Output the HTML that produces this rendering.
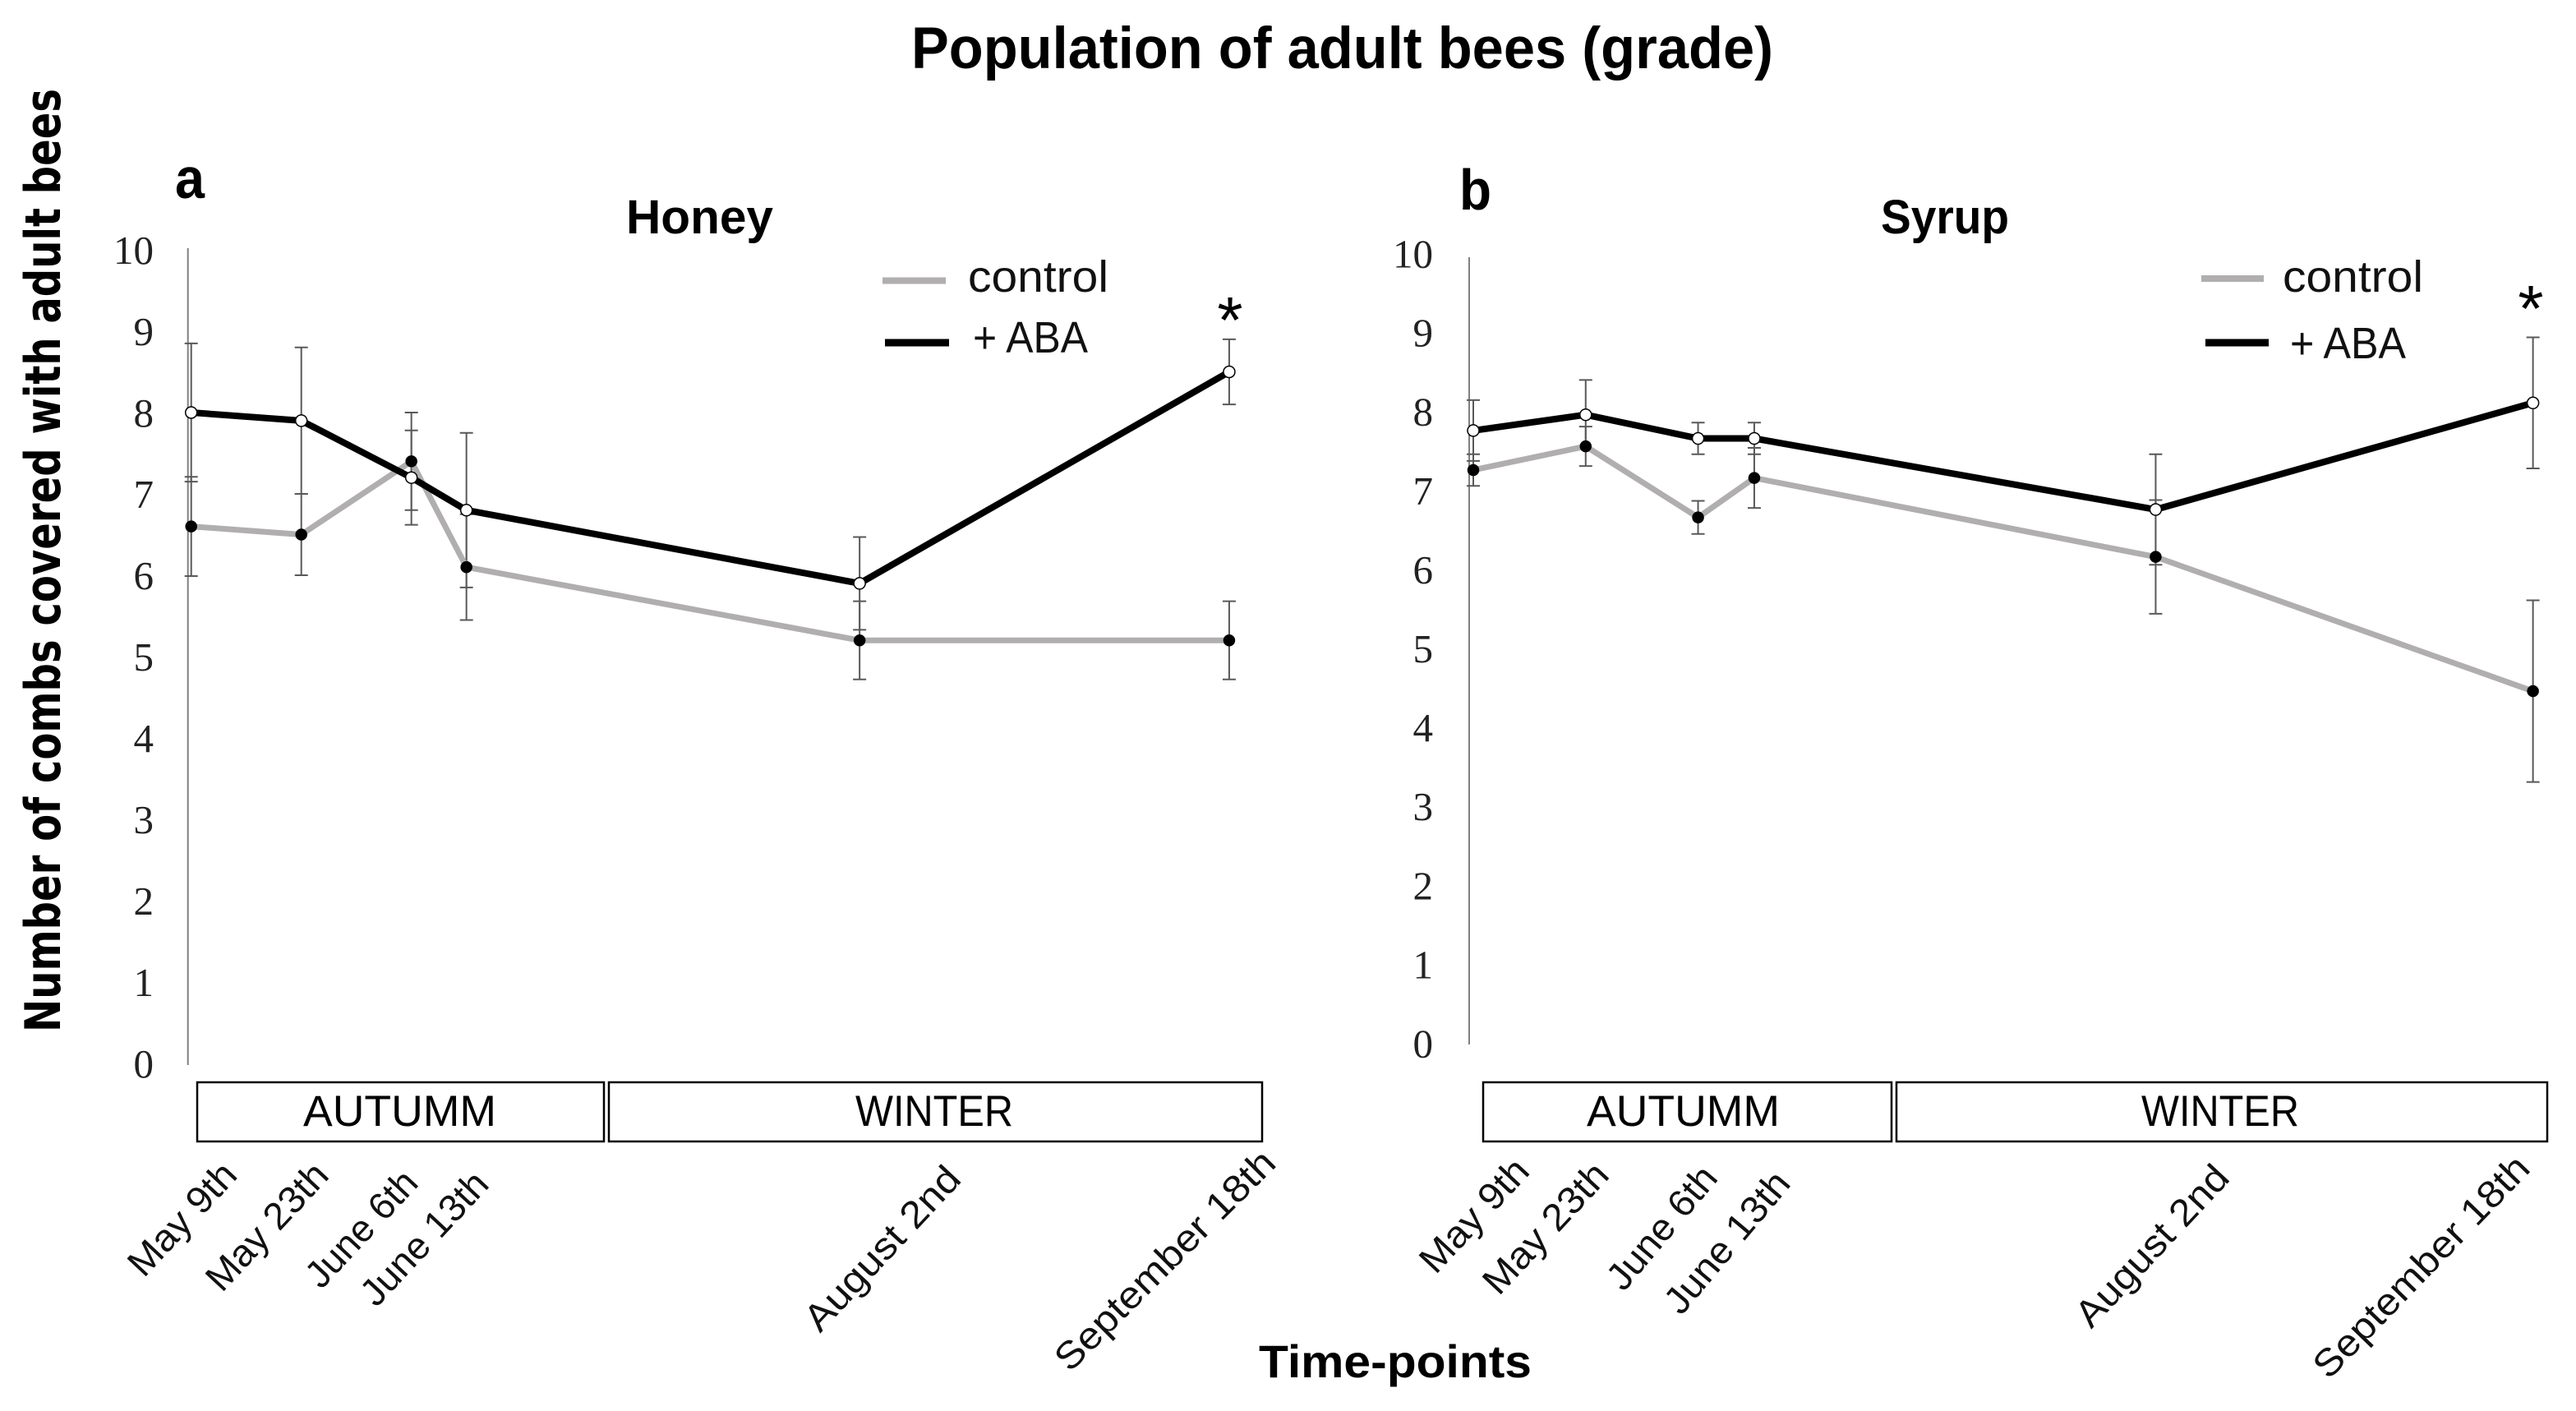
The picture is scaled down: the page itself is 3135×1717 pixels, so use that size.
<!DOCTYPE html>
<html lang="en">
<head>
<meta charset="utf-8">
<title>Population of adult bees (grade)</title>
<style>
  html, body { margin: 0; padding: 0; background: #fff; width: 3135px; height: 1717px; overflow: hidden; }
  svg { display: block; }
  text { fill: #000; font-family: "Liberation Sans", sans-serif; }
  .b { font-weight: 700; }
  .rot { font-size: 46px; fill: #111; }
  .season { font-size: 53px; }
  .leg { font-size: 54px; fill: #111; }
  .tick { font-family: "Liberation Serif", serif; font-size: 49px; fill: #222; }
  .box { fill: #fff; stroke: #000; stroke-width: 2.5; }
</style>
</head>
<body>
<svg id="figure" xmlns="http://www.w3.org/2000/svg" width="3135" height="1717" viewBox="0 0 3135 1717">
  <rect width="3135" height="1717" fill="#fff"/>
  <text class="b" x="1109" y="83" font-size="71" textLength="1049" lengthAdjust="spacingAndGlyphs">Population of adult bees (grade)</text>
  <text class="b" transform="translate(73,1256) rotate(-90)" style="font-family:'DejaVu Sans',sans-serif" font-size="60" textLength="1148" lengthAdjust="spacingAndGlyphs">Number of combs covered with adult bees</text>
  <text class="b" x="1532" y="1676" font-size="56" textLength="332" lengthAdjust="spacingAndGlyphs">Time-points</text>

  <text class="b" x="213" y="241" font-size="70" textLength="36" lengthAdjust="spacingAndGlyphs">a</text>
  <text class="b" x="1776" y="255" font-size="70" textLength="39" lengthAdjust="spacingAndGlyphs">b</text>
  <text class="b" x="762" y="284" font-size="58" textLength="179" lengthAdjust="spacingAndGlyphs">Honey</text>
  <text class="b" x="2289" y="284" font-size="58" textLength="156" lengthAdjust="spacingAndGlyphs">Syrup</text>

  <g id="honey-plot"></g>
  <g id="syrup-plot"></g>

  <g>
    <line x1="1074" x2="1151" y1="341.5" y2="341.5" stroke="#b0aeae" stroke-width="8"/>
    <text class="leg" x="1178" y="355" textLength="171" lengthAdjust="spacingAndGlyphs">control</text>
    <line x1="1077" x2="1155" y1="417" y2="417" stroke="#000" stroke-width="9"/>
    <text class="leg" x="1184" y="429" textLength="140" lengthAdjust="spacingAndGlyphs">+ ABA</text>
  </g>
  <g>
    <line x1="2679" x2="2755" y1="339" y2="339" stroke="#b0aeae" stroke-width="8"/>
    <text class="leg" x="2778" y="355" textLength="171" lengthAdjust="spacingAndGlyphs">control</text>
    <line x1="2684" x2="2761" y1="417" y2="417" stroke="#000" stroke-width="9"/>
    <text class="leg" x="2787" y="436" textLength="141" lengthAdjust="spacingAndGlyphs">+ ABA</text>
  </g>

  <text x="1497" y="417" font-size="80" text-anchor="middle">*</text>
  <text x="3080" y="403" font-size="80" text-anchor="middle">*</text>

  <g>
    <rect class="box" x="240" y="1317" width="495" height="72"/>
    <text class="season" x="369" y="1370" textLength="235" lengthAdjust="spacingAndGlyphs">AUTUMM</text>
    <rect class="box" x="741" y="1317" width="795" height="72"/>
    <text class="season" x="1041" y="1370" textLength="192" lengthAdjust="spacingAndGlyphs">WINTER</text>
  </g>
  <g>
    <rect class="box" x="1805" y="1317" width="497" height="72"/>
    <text class="season" x="1931" y="1370" textLength="235" lengthAdjust="spacingAndGlyphs">AUTUMM</text>
    <rect class="box" x="2308" y="1317" width="792" height="72"/>
    <text class="season" x="2606" y="1370" textLength="192" lengthAdjust="spacingAndGlyphs">WINTER</text>
  </g>

  <g>
    <text class="rot" transform="translate(175,1556) rotate(-47)" textLength="170" lengthAdjust="spacingAndGlyphs">May 9th</text>
    <text class="rot" transform="translate(270,1574) rotate(-47)" textLength="194" lengthAdjust="spacingAndGlyphs">May 23th</text>
    <text class="rot" transform="translate(391,1570) rotate(-47)" textLength="176" lengthAdjust="spacingAndGlyphs">June 6th</text>
    <text class="rot" transform="translate(458,1592) rotate(-47)" textLength="204" lengthAdjust="spacingAndGlyphs">June 13th</text>
    <text class="rot" transform="translate(998,1623) rotate(-47)" textLength="255" lengthAdjust="spacingAndGlyphs">August 2nd</text>
    <text class="rot" transform="translate(1302,1671) rotate(-45)" textLength="358" lengthAdjust="spacingAndGlyphs">September 18th</text>
  </g>
  <g>
    <text class="rot" transform="translate(1747,1552) rotate(-47)" textLength="171" lengthAdjust="spacingAndGlyphs">May 9th</text>
    <text class="rot" transform="translate(1824,1578) rotate(-47)" textLength="200" lengthAdjust="spacingAndGlyphs">May 23th</text>
    <text class="rot" transform="translate(1976,1573) rotate(-50)" textLength="181" lengthAdjust="spacingAndGlyphs">June 6th</text>
    <text class="rot" transform="translate(2046,1602) rotate(-50)" textLength="210" lengthAdjust="spacingAndGlyphs">June 13th</text>
    <text class="rot" transform="translate(2545,1618) rotate(-47)" textLength="250" lengthAdjust="spacingAndGlyphs">August 2nd</text>
    <text class="rot" transform="translate(2834,1680) rotate(-46)" textLength="356" lengthAdjust="spacingAndGlyphs">September 18th</text>
  </g>
</svg>
<script>
const dayOffsets = [0, 14, 28, 35, 85, 132];
const yTicks = [0, 1, 2, 3, 4, 5, 6, 7, 8, 9, 10];

const honeyControl = [6.6, 6.5, 7.4, 6.1, 5.2, 5.2];
const honeyControlErr = [0.61, 0.5, 0.6, 0.65, 0.48, 0.48];
const honeyAba = [8.0, 7.9, 7.2, 6.8, 5.9, 8.5];
const honeyAbaErr = [0.85, 0.9, 0.58, 0.95, 0.57, 0.4];

const syrupControl = [7.3, 7.6, 6.7, 7.2, 6.2, 4.5];
const syrupControlErr = [0.2, 0.25, 0.21, 0.38, 0.72, 1.15];
const syrupAba = [7.8, 8.0, 7.7, 7.7, 6.8, 8.15];
const syrupAbaErr = [0.385, 0.44, 0.2, 0.2, 0.7, 0.83];

const SVG_NS = 'http://www.w3.org/2000/svg';

function xHoney(d) { return 232.7 + d * 9.57; }
function yHoney(v) { return 1294 - 99 * v; }
function xSyrup(d) { return 1793 + d * 9.77; }
function ySyrup(v) { return 1273.5 - 96.1 * v; }

function shape(parent, tag, attrs) {
  const el = document.createElementNS(SVG_NS, tag);
  for (const k in attrs) el.setAttribute(k, attrs[k]);
  parent.appendChild(el);
  return el;
}

function drawPanel(id, xFn, yFn, axisX, axisTop, axisBottom, tickX, tickDy, control, controlErr, aba, abaErr) {
  const g = document.getElementById(id);

  const axis = shape(g, 'line', { x1: axisX, x2: axisX, y1: axisTop, y2: axisBottom, stroke: '#808080', 'stroke-width': 2 });
  
  

  yTicks.forEach(function (t) {
    const label = shape(g, 'text', { x: tickX, y: yFn(t) + tickDy, 'text-anchor': 'end', class: 'tick' });
    label.textContent = String(t);
    
    
  });

  function errorBars(values, errs, seriesName) {
    values.forEach(function (v, i) {
      const x = xFn(dayOffsets[i]);
      const hi = yFn(v + errs[i]);
      const lo = yFn(v - errs[i]);
      const bar = shape(g, 'path', {
        d: 'M' + (x - 8) + ' ' + hi + 'H' + (x + 8) + 'M' + x + ' ' + hi + 'V' + lo + 'M' + (x - 8) + ' ' + lo + 'H' + (x + 8),
        fill: 'none', stroke: '#595959', 'stroke-width': 2
      });
      
      
    });
  }

  function polyline(values, colour, width, seriesName) {
    const pts = values.map(function (v, i) { return xFn(dayOffsets[i]) + ',' + yFn(v); }).join(' ');
    const line = shape(g, 'polyline', { points: pts, fill: 'none', stroke: colour, 'stroke-width': width, 'stroke-linejoin': 'miter' });
    
    
  }

  function markers(values, fill, stroke, radius, seriesName) {
    values.forEach(function (v, i) {
      const dot = shape(g, 'circle', { cx: xFn(dayOffsets[i]), cy: yFn(v), r: radius, fill: fill, stroke: stroke, 'stroke-width': 1.5 });
      
      
    });
  }

  errorBars(control, controlErr, 'control');
  errorBars(aba, abaErr, 'aba');
  polyline(control, '#b0aeae', 7, 'control');
  polyline(aba, '#000', 8, 'aba');
  markers(control, '#000', '#000', 6.5, 'control');
  markers(aba, '#fff', '#000', 7, 'aba');
}

drawPanel('honey-plot', xHoney, yHoney, 228.7, 302, 1296, 187, 17, honeyControl, honeyControlErr, honeyAba, honeyAbaErr);
drawPanel('syrup-plot', xSyrup, ySyrup, 1788, 313, 1271, 1744, 13, syrupControl, syrupControlErr, syrupAba, syrupAbaErr);
</script>
</body>
</html>
